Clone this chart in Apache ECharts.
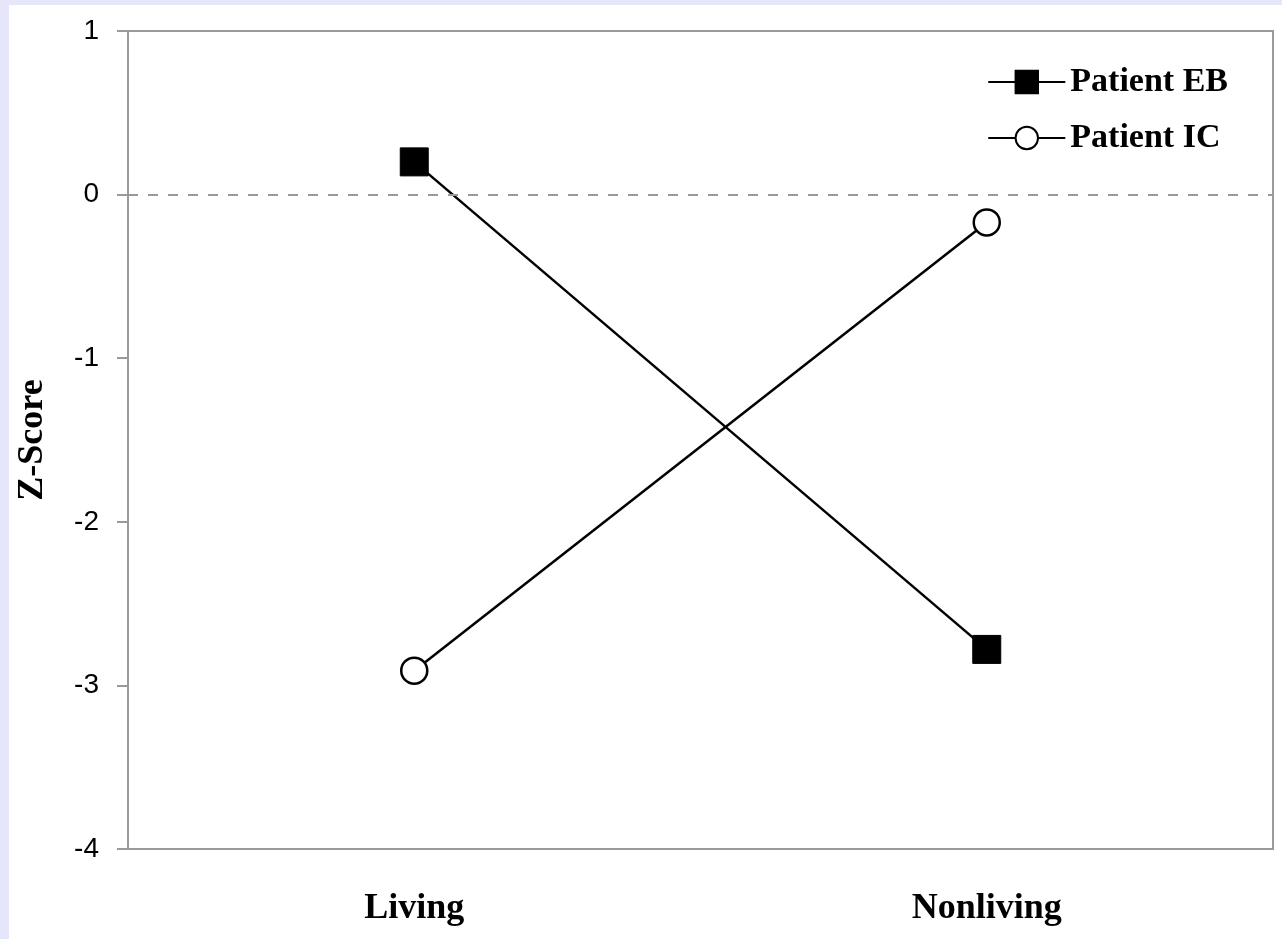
<!DOCTYPE html>
<html>
<head>
<meta charset="utf-8">
<script src="https://cdn.jsdelivr.net/npm/echarts@6/dist/echarts.min.js"></script>
<style>
html,body{margin:0;padding:0;background:#e6e6fa;width:1282px;height:939px;overflow:hidden;}
#chart{position:absolute;left:9px;top:5px;width:1273px;height:934px;background:#fff;}
</style>
</head>
<body>
<div id="chart"></div>
<script>
var categories = ['Living', 'Nonliving'];
var patientEB = [0.2, -2.78];
var patientIC = [-2.91, -0.17];
var yTicks = { min: -4, max: 1, interval: 1 };

var chart = echarts.init(document.getElementById('chart'), null, {renderer: 'canvas'});
var serif = '"Liberation Serif", "Times New Roman", serif';
var sans = '"Liberation Sans", Arial, sans-serif';
chart.setOption({
  animation: false,
  backgroundColor: '#fff',
  grid: { left: 119, top: 26, right: 9, bottom: 90, show: true, borderColor: '#9a9a9a', borderWidth: 2, backgroundColor: 'transparent', outerBoundsMode: 'none', containLabel: false },
  legend: {
    orient: 'vertical', right: 49, top: 55, itemWidth: 77, itemHeight: 28, itemGap: 22,
    textStyle: { fontFamily: serif, fontWeight: 'bold', fontSize: 34, color: '#000' },
    data: ['Patient EB', 'Patient IC']
  },
  xAxis: {
    type: 'category', data: categories, boundaryGap: true,
    axisLine: { onZero: false, lineStyle: { color: '#9a9a9a', width: 2 } },
    axisTick: { show: false },
    axisLabel: { fontFamily: serif, fontWeight: 'bold', fontSize: 36, color: '#000', margin: 42 }
  },
  yAxis: {
    type: 'value', min: yTicks.min, max: yTicks.max, interval: yTicks.interval,
    name: 'Z-Score', nameLocation: 'middle', nameGap: 77, nameRotate: 90,
    nameTextStyle: { fontFamily: serif, fontWeight: 'bold', fontSize: 36, color: '#000' },
    axisLine: { show: true, lineStyle: { color: '#9a9a9a', width: 2 } },
    axisTick: { show: true, inside: false, length: 11, lineStyle: { color: '#9a9a9a', width: 2 } },
    splitLine: { show: false },
    axisLabel: { fontFamily: sans, fontSize: 28, color: '#000', margin: 29 }
  },
  series: [
    {
      name: 'Patient EB', type: 'line', data: patientEB,
      symbol: 'rect', symbolSize: 28,
      lineStyle: { color: '#000', width: 2.5 },
      itemStyle: { color: '#000', borderColor: '#000', borderWidth: 1 },
      markLine: {
        silent: true, symbol: 'none', label: { show: false },
        lineStyle: { color: '#999', type: [10, 10], width: 2 },
        data: [{ yAxis: 0 }]
      },
      z: 3
    },
    {
      name: 'Patient IC', type: 'line', data: patientIC,
      symbol: 'circle', symbolSize: 26,
      lineStyle: { color: '#000', width: 2.5 },
      itemStyle: { color: '#fff', borderColor: '#000', borderWidth: 2.5 },
      z: 3
    }
  ]
});
</script>
</body>
</html>
